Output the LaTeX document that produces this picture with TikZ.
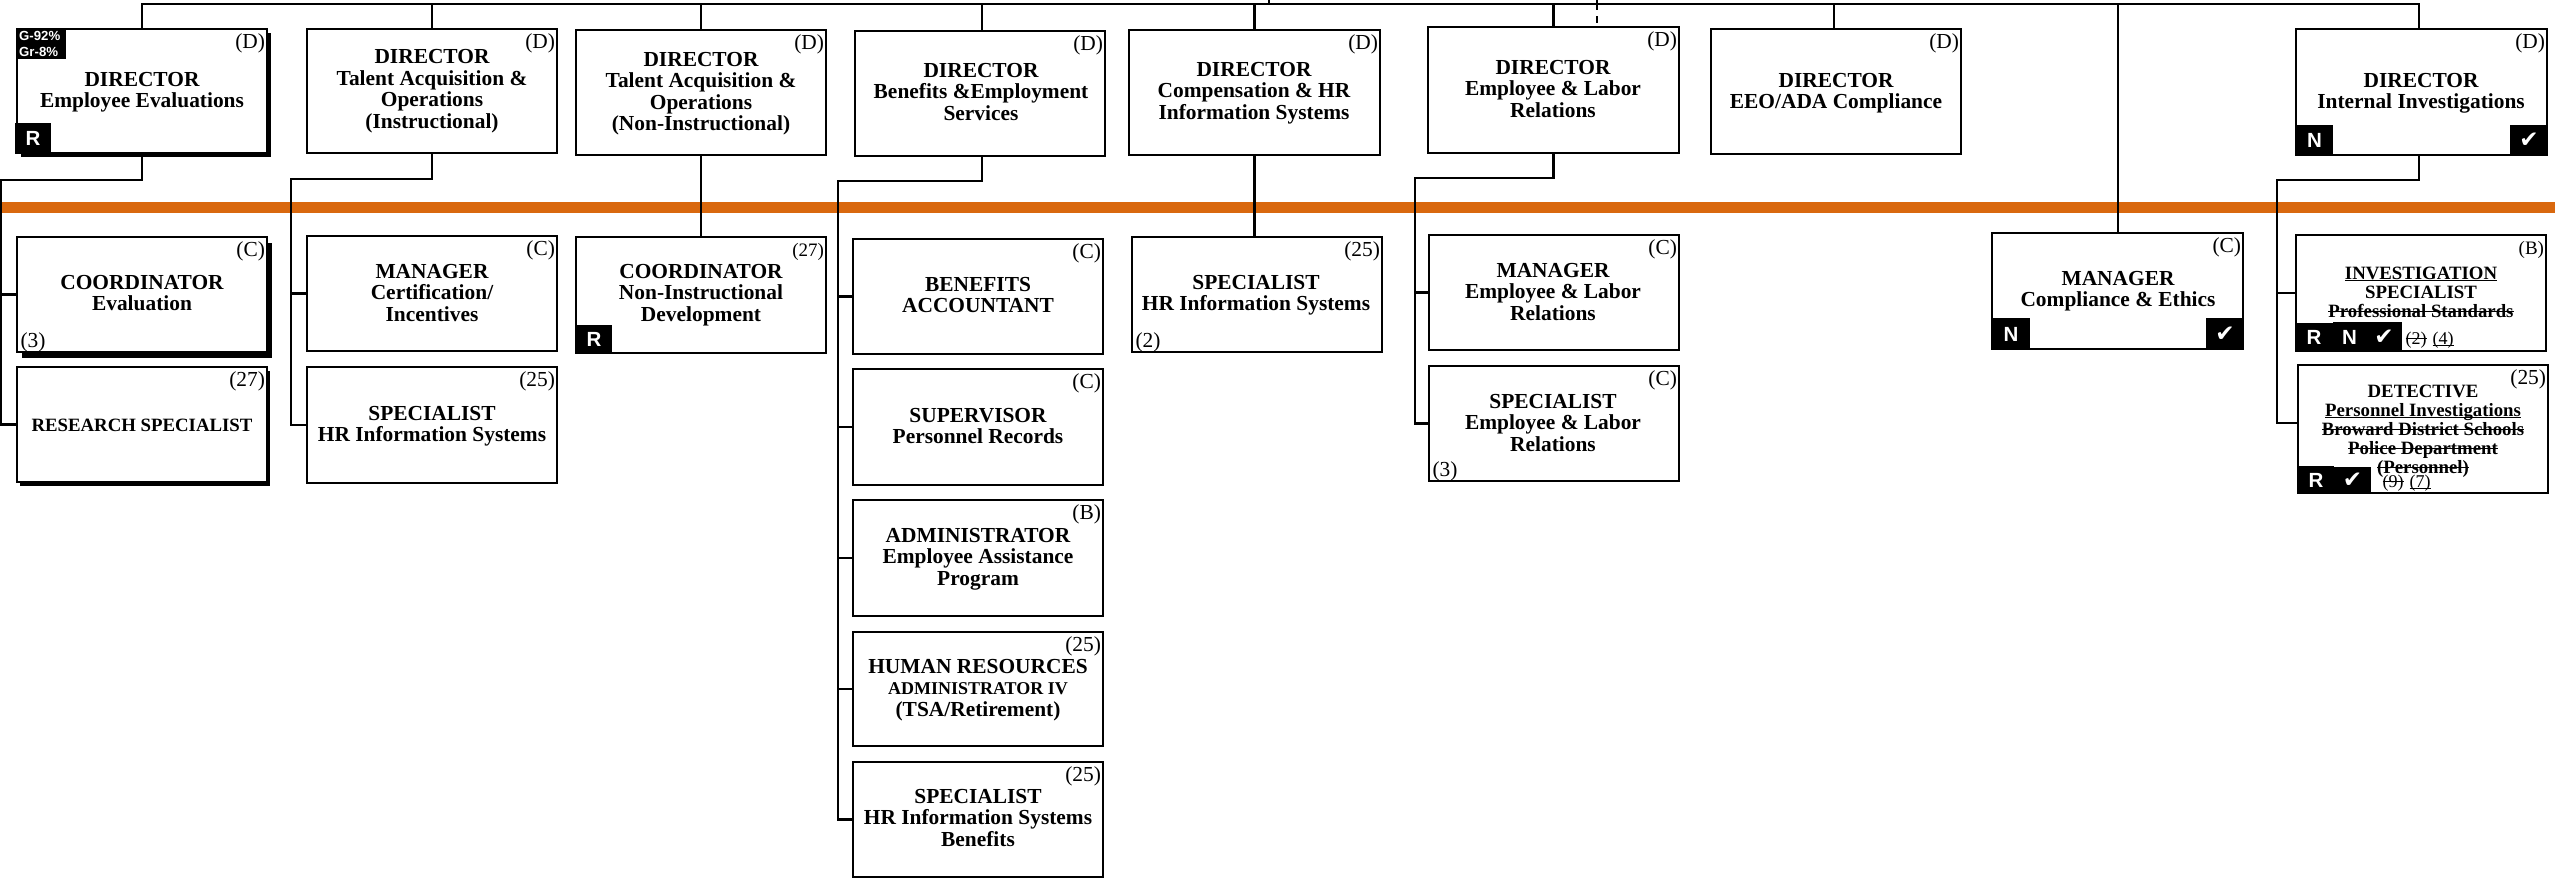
\documentclass[tikz,border=0pt]{standalone}
\usepackage{fontspec}
\setmainfont{Liberation Serif}
\setsansfont{Liberation Sans}
\newfontfamily\symf{DejaVu Sans}
\usetikzlibrary{shadows}
\definecolor{barorange}{HTML}{D9680E}
\newsavebox\markbox
\newcommand{\stk}[1]{\sbox\markbox{#1}\rlap{\usebox\markbox}\rlap{\raisebox{.27em}{\rule{\wd\markbox}{1.3pt}}}\hbox to \wd\markbox{\hss}}
\newcommand{\und}[1]{\sbox\markbox{#1}\rlap{\usebox\markbox}\rlap{\raisebox{-.13em}{\rule{\wd\markbox}{1.3pt}}}\hbox to \wd\markbox{\hss}}
\newcommand{\fbg}{\fontsize{21.4}{21.5}\selectfont}
\newcommand{\fsm}{\fontsize{18.8}{19}\selectfont}
\tikzset{
  x=1pt,y=-1pt,
  orgbox/.style={draw=black,fill=white,line width=2.4pt,inner sep=0pt,outer sep=0pt},
  shadA/.style={general shadow={fill=black,shadow xshift=3.5pt,shadow yshift=-3.5pt}},
  shadB/.style={general shadow={fill=black,shadow xshift=5pt,shadow yshift=-5.5pt}},
  shadC/.style={general shadow={fill=black,shadow xshift=3pt,shadow yshift=-3.5pt}},
  title/.style={anchor=base,inner sep=0pt,outer sep=0pt,font=\fbg\bfseries},
  grade/.style={inner sep=0pt,outer sep=0pt,font=\fbg},
  tagbox/.style={fill=black,text=white,inner sep=0pt,outer sep=0pt,font=\fontsize{20.5}{20.5}\selectfont\sffamily\bfseries},
  wire/.style={line width=2.4pt,draw=black,line cap=rect,line join=miter},
}
% name, x1,y1,x2,y2
\newcommand{\obox}[6][]{\node[orgbox,#1,minimum width={#5-#3},minimum height={#6-#4}] (#2) at ({(#3+#5)/2},{(#4+#6)/2}) {};}
% optional font, name, x, first baseline, lines
\newcommand{\tb}[5][]{\node[title,#1] (#2) at (#3,#4) {\begin{tabular}[t]{@{}c@{}}#5\end{tabular}};}
\newcommand{\crn}[3][]{\node[grade,anchor=base east,#1] (#2-grade) at ([xshift=-2pt,yshift=-19pt]#2.north east) {#3};}
\newcommand{\cnt}[2]{\node[grade,anchor=base west] (#1-count) at ([xshift=3.5pt,yshift=5pt]#1.south west) {#2};}
\newcommand{\bdg}[6]{\node[tagbox,minimum width={#4-#2},minimum height={#5-#3}] (#1) at ({(#2+#4)/2},{(#3+#5)/2}) {#6};}
\newcommand{\chk}{{\symf\fontsize{23}{23}\selectfont ✔}}
\begin{document}
\begin{tikzpicture}
\useasboundingbox (0,0) rectangle (2555,878);
\fill[white] (0,0) rectangle (2555,878);
% top row
\obox[shadA]{a}{17}{29}{267}{153}
\obox{b}{307}{29}{557}{153}
\obox{c}{576}{30}{826}{155}
\obox{d}{855}{31}{1105}{156}
\obox{e}{1129}{30}{1380}{155}
\obox{f}{1428}{27}{1679}{153}
\obox{g}{1711}{29}{1961}{154}
\obox{h}{2296}{29}{2547}{155}
% second row
\obox[shadB]{aa}{17}{237}{267}{352}
\obox[shadC]{ab}{17}{367}{267}{482}
\obox{ba}{307}{236}{557}{351}
\obox{bb}{307}{367}{557}{483}
\obox{ca}{576}{237}{826}{353}
\obox{da}{853}{239}{1103}{354}
\obox{db}{853}{369}{1103}{485}
\obox{dc}{853}{500}{1103}{616}
\obox{dd}{853}{632}{1103}{746}
\obox{de}{853}{762}{1103}{877}
\obox{ea}{1132}{237}{1382}{352}
\obox{fa}{1429}{235}{1679}{350}
\obox{fb}{1429}{366}{1679}{481}
\obox{ga}{1992}{233}{2243}{349}
\obox{ha}{2296}{235}{2546}{351}
\obox{hb}{2298}{365}{2548}{493}
% titles
\tb{at}{142}{86}{DIRECTOR\\Employee Evaluations}
\tb{bt}{432}{63.5}{DIRECTOR\\Talent Acquisition \&\\Operations\\(Instructional)}
\tb{ct}{701}{66}{DIRECTOR\\Talent Acquisition \&\\Operations\\(Non-Instructional)}
\tb{dt}{981}{77}{DIRECTOR\\Benefits \&Employment\\Services}
\tb{et}{1254}{76}{DIRECTOR\\Compensation \& HR\\Information Systems}
\tb{ft}{1553}{74}{DIRECTOR\\Employee \& Labor\\Relations}
\tb{gt}{1836}{87}{DIRECTOR\\EEO/ADA Compliance}
\tb{ht}{2421}{87}{DIRECTOR\\Internal Investigations}
\tb{aat}{142}{289}{COORDINATOR\\Evaluation}
\tb[font=\fsm\bfseries]{abt}{142}{431}{RESEARCH SPECIALIST}
\tb{bat}{432}{278}{MANAGER\\Certification/\\Incentives}
\tb{bbt}{432}{420}{SPECIALIST\\HR Information Systems}
\tb{cat}{701}{278}{COORDINATOR\\Non-Instructional\\Development}
\tb{dat}{978}{291}{BENEFITS\\ACCOUNTANT}
\tb{dbt}{978}{422}{SUPERVISOR\\Personnel Records}
\tb{dct}{978}{542}{ADMINISTRATOR\\Employee Assistance\\Program}
\tb{ddt}{978}{673}{HUMAN RESOURCES\\{\fontsize{18}{21.5}\selectfont ADMINISTRATOR IV}\\(TSA/Retirement)}
\tb{det}{978}{803}{SPECIALIST\\HR Information Systems\\Benefits}
\tb{eat}{1256}{289}{SPECIALIST\\HR Information Systems}
\tb{fat}{1553}{277}{MANAGER\\Employee \& Labor\\Relations}
\tb{fbt}{1553}{408}{SPECIALIST\\Employee \& Labor\\Relations}
\tb{gat}{2118}{285}{MANAGER\\Compliance \& Ethics}
\tb[font=\fsm\bfseries]{hat}{2421}{279}{\und{INVESTIGATION}\\SPECIALIST\\\stk{Professional Standards}}
\tb[font=\fsm\bfseries]{hbt}{2423}{397}{DETECTIVE\\\und{Personnel Investigations}\\\stk{Broward District Schools}\\\stk{Police Department}\\\stk{(Personnel)}}
% grades
\crn{a}{(D)}\crn{b}{(D)}\crn{c}{(D)}\crn{d}{(D)}\crn{e}{(D)}\crn{f}{(D)}\crn{g}{(D)}\crn{h}{(D)}
\crn{aa}{(C)}\crn{ab}{(27)}\crn{ba}{(C)}\crn{bb}{(25)}\crn[font=\fontsize{19}{19}\selectfont]{ca}{(27)}
\crn{da}{(C)}\crn{db}{(C)}\crn{dc}{(B)}\crn{dd}{(25)}\crn{de}{(25)}
\crn{ea}{(25)}\crn{fa}{(C)}\crn{fb}{(C)}\crn{ga}{(C)}\crn[font=\fontsize{19}{19}\selectfont]{ha}{(B)}\crn{hb}{(25)}
\cnt{aa}{(3)}\cnt{ea}{(2)}\cnt{fb}{(3)}
% badges
\bdg{agrade}{17}{29}{66}{59}{}
\node[anchor=north west,inner sep=0pt,text=white,font=\fontsize{13.2}{16.5}\selectfont\sffamily\bfseries,align=left] (agradet) at (19,31) {G-92\%\\Gr-8\%};
\bdg{ar}{15}{123}{51}{154}{R}
\bdg{car}{576}{325}{612}{354}{R}
\bdg{gan}{1992}{318}{2030}{350}{N}
\bdg{gak}{2206}{318}{2244}{350}{\chk}
\bdg{hn}{2296}{125}{2333}{156}{N}
\bdg{hk}{2510}{125}{2548}{156}{\chk}
\bdg{har}{2295}{323}{2333}{352}{R}
\bdg{han}{2333}{322}{2366}{352}{N}
\bdg{hak}{2366}{322}{2402}{352}{\chk}
\bdg{hbr}{2298}{466}{2334}{494}{R}
\bdg{hbk}{2334}{467}{2371}{494}{\chk}
\node[grade,font=\fontsize{18}{18}\selectfont,anchor=base] (han1) at (2416,344) {\stk{(2)}};
\node[grade,font=\fontsize{18}{18}\selectfont,anchor=base] (han2) at (2443,344) {\und{(4)}};
\node[grade,font=\fontsize{18}{18}\selectfont,anchor=base] (hbn1) at (2393,487) {\stk{(9)}};
\node[grade,font=\fontsize{18}{18}\selectfont,anchor=base] (hbn2) at (2420,487) {\und{(7)}};
% orange bar
\fill[barorange] (0,201.5) rectangle (2555,212.5);
% connectors
\coordinate (topbus) at (0,4);
\coordinate (up) at (1269,0);
\coordinate (dashtop) at (1597,0);
\coordinate (dashend) at (1597,23);
\coordinate (busa) at (1,180);
\coordinate (busb) at (291,179);
\coordinate (busd) at (838,181);
\coordinate (busf) at (1415,178);
\coordinate (bush) at (2277,180);
\coordinate (gdrop) at (1834,4);
\coordinate (hdrop) at (2419,4);
\coordinate (ddrop) at (982,4);
\coordinate (gatop) at (2118,4);
\coordinate (hbentry) at (2298,423);
\draw[wire,line width=2.8pt] (a.north |- topbus) -- (hdrop);
\draw[wire] (up) -- (up |- topbus);
\draw[wire,dash pattern=on 10pt off 6pt,line cap=butt] (dashtop) -- (dashend);
\draw[wire] (a.north |- topbus) -- (a.north);
\draw[wire] (b.north |- topbus) -- (b.north);
\draw[wire] (c.north |- topbus) -- (c.north);
\draw[wire] (ddrop) -- (ddrop |- d.north);
\draw[wire] (e.north |- topbus) -- (e.north);
\draw[wire] (f.north |- topbus) -- (f.north);
\draw[wire] (gdrop) -- (gdrop |- g.north);
\draw[wire] (hdrop) -- (hdrop |- h.north);
\draw[wire] (gatop) -- (gatop |- ga.north);
\draw[wire] (a.south) |- (busa) -- (busa |- ab.west) -- (ab.west);
\draw[wire] (busa |- aa.west) -- (aa.west);
\draw[wire] (b.south) |- (busb) -- (busb |- bb.west) -- (bb.west);
\draw[wire] (busb |- ba.west) -- (ba.west);
\draw[wire] (c.south) -- (ca.north);
\draw[wire] (ddrop |- d.south) |- (busd) -- (busd |- de.west) -- (de.west);
\draw[wire] (busd |- da.west) -- (da.west);
\draw[wire] (busd |- db.west) -- (db.west);
\draw[wire] (busd |- dc.west) -- (dc.west);
\draw[wire] (busd |- dd.west) -- (dd.west);
\draw[wire] (e.south) -- (e.south |- ea.north);
\draw[wire] (f.south) |- (busf) -- (busf |- fb.west) -- (fb.west);
\draw[wire] (busf |- fa.west) -- (fa.west);
\draw[wire] (hdrop |- h.south) |- (bush) -- (bush |- hbentry) -- (hbentry);
\draw[wire] (bush |- ha.west) -- (ha.west);
\end{tikzpicture}
\end{document}
